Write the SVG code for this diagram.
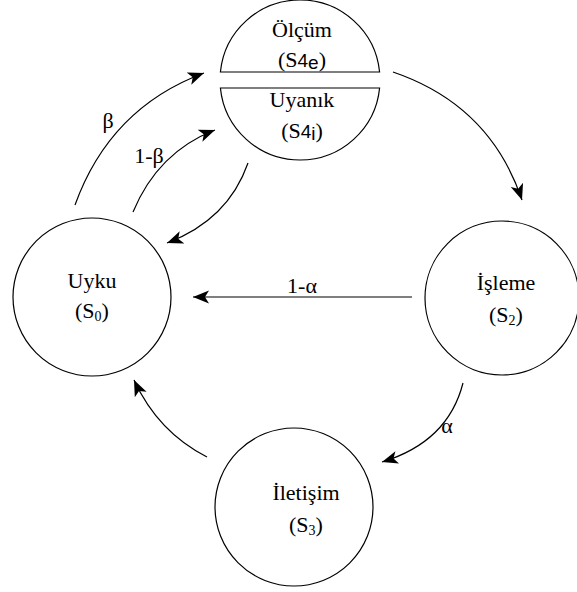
<svg xmlns="http://www.w3.org/2000/svg" width="577" height="592" viewBox="0 0 577 592">
<style>
.n{fill:none;stroke:#000;stroke-width:1.2}
.c{fill:none;stroke:#000;stroke-width:1.2;marker-end:url(#ah)}
text{font-family:"Liberation Serif",serif;font-size:22px;fill:#000;text-anchor:middle}
.s{font-family:"Liberation Sans",sans-serif;font-size:19px}
</style>
<defs>
<marker id="ah" markerUnits="userSpaceOnUse" markerWidth="20" markerHeight="14" refX="16" refY="7" orient="auto">
<path d="M16,7 L0,0.5 L4,7 L0,13.5 Z" fill="#000"/>
</marker>
</defs>
<rect width="577" height="592" fill="#fff"/>
<g id="S4">
<path class="n" d="M220.4,72 A80,80 0 0 1 379.6,72 Z"/>
<path class="n" d="M220.4,88 A80,80 0 0 0 379.6,88 Z"/>
<text x="302" y="37">Ölçüm</text>
<text x="302" y="67">(S<tspan class="s">4</tspan><tspan class="s" dy="2">e</tspan><tspan dy="-2">)</tspan></text>
<text x="302" y="107">Uyanık</text>
<text x="302" y="138">(S<tspan class="s">4</tspan><tspan class="s" dy="2">i</tspan><tspan dy="-2">)</tspan></text>
</g>
<g id="S0">
<circle class="n" cx="92" cy="297" r="79"/>
<text x="92" y="288">Uyku</text>
<text x="92" y="318">(S<tspan font-size="14" dy="3">0</tspan><tspan dy="-3">)</tspan></text>
</g>
<g id="S2">
<circle class="n" cx="502" cy="298" r="77"/>
<text x="506" y="290">İşleme</text>
<text x="506" y="322">(S<tspan font-size="14" dy="3">2</tspan><tspan dy="-3">)</tspan></text>
</g>
<g id="S3">
<circle class="n" cx="294" cy="507" r="79"/>
<text x="306" y="500">İletişim</text>
<text x="306" y="532">(S<tspan font-size="14" dy="3">3</tspan><tspan dy="-3">)</tspan></text>
</g>
<g id="connectors">
<path class="c" d="M75,205 Q110,108 204,73"/>
<path class="c" d="M133,212 Q158,152 215,130"/>
<path class="c" d="M248,163 Q228,220 167,243"/>
<path class="c" d="M393,72 Q490,105 522,200"/>
<path class="c" d="M412,297 L193,297"/>
<path class="c" d="M463,383 Q448,442 382,462"/>
<path class="c" d="M207,457 Q158,432 134,380"/>
<text x="108" y="128">β</text>
<text x="149" y="163">1-β</text>
<text x="302" y="293">1-α</text>
<text x="447" y="433">α</text>
</g>
</svg>
